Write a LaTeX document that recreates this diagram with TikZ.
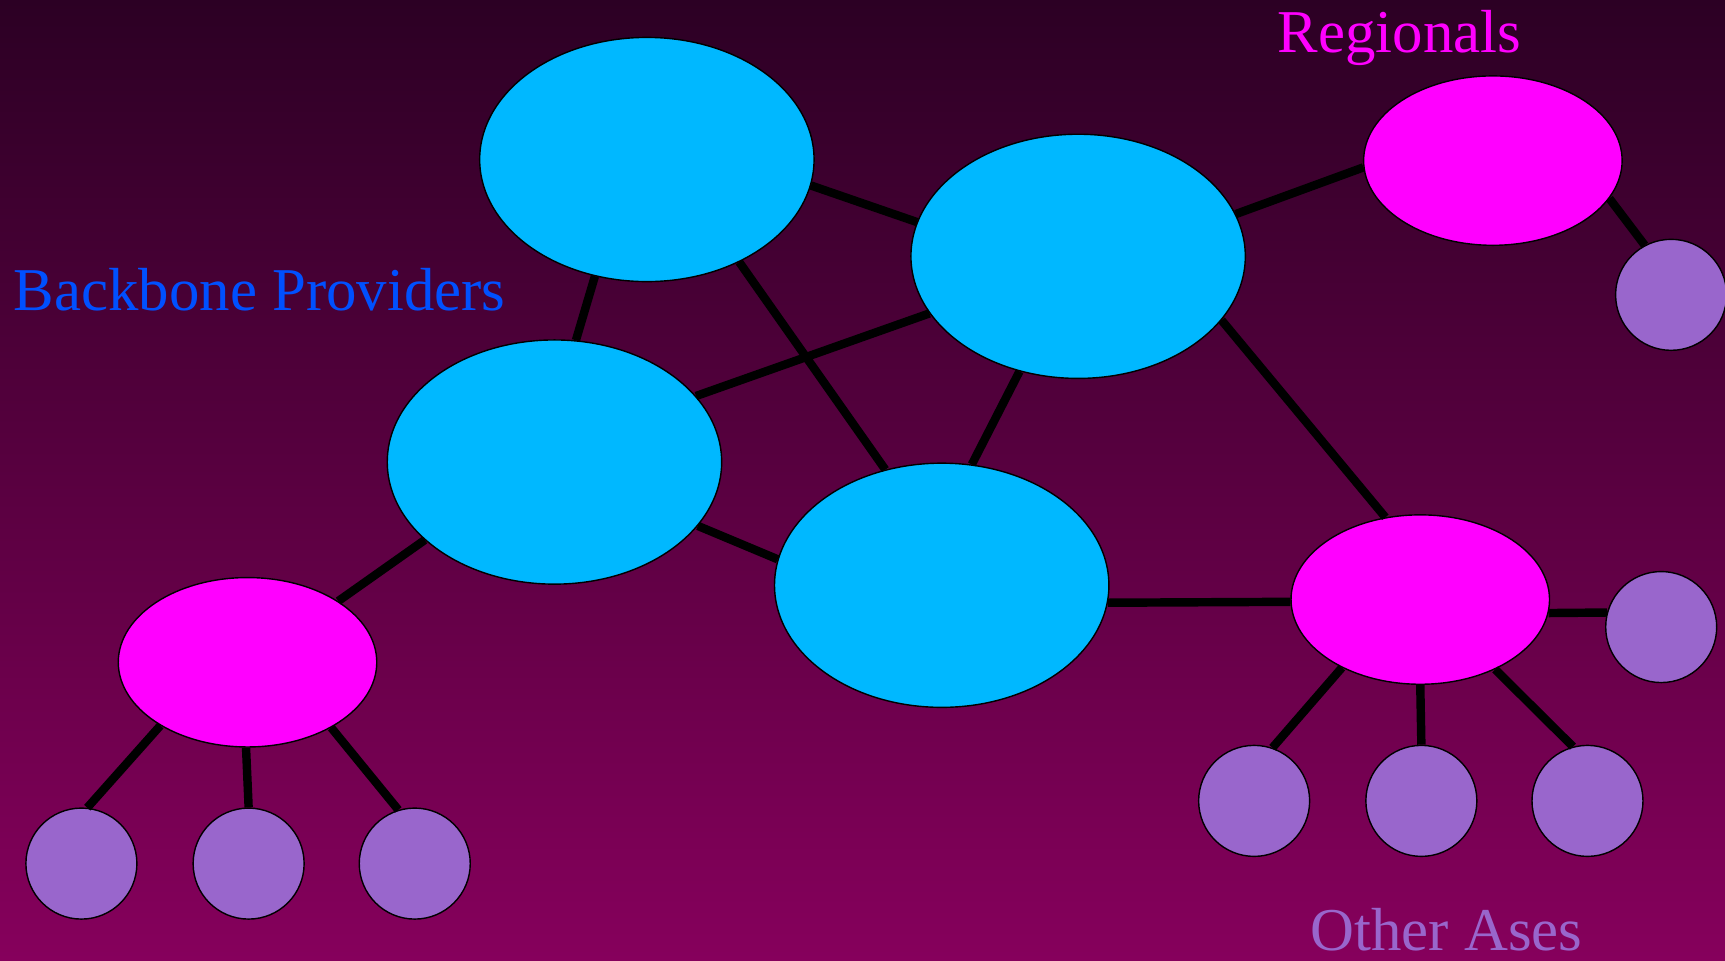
\documentclass[tikz,border=0pt]{standalone}
\usepackage{fontspec}
\setmainfont{Liberation Serif}
\usetikzlibrary{shapes.geometric}

\definecolor{bgtop}{RGB}{44,0,36}
\definecolor{bgbottom}{RGB}{134,0,92}
\definecolor{backbone}{RGB}{0,184,255}
\definecolor{regional}{RGB}{255,0,255}
\definecolor{otheras}{RGB}{153,102,204}
\definecolor{bbtext}{RGB}{0,80,255}

\begin{document}
\begin{tikzpicture}[x=0.011cm, y=-0.011cm,
        bbnode/.style={ellipse, draw=black, line width=0.4pt, fill=backbone,
            minimum width=3.344cm, minimum height=2.442cm, inner sep=0pt},
        regnode/.style={ellipse, draw=black, line width=0.4pt, fill=regional,
            minimum width=2.585cm, minimum height=1.694cm, inner sep=0pt},
        asnode/.style={circle, draw=black, line width=0.4pt, fill=otheras,
            minimum size=1.11cm, inner sep=0pt},
        link/.style={line width=2.4pt, draw=black},
        lbl/.style={font=\fontsize{17.3}{20}\selectfont, inner sep=0pt}]
        \shade[top color=bgtop, bottom color=bgbottom] (0, 0) rectangle (1568, 873);
        \useasboundingbox (0, 0) rectangle (1568, 873);

        % backbone providers
        \node[bbnode] (bbA) at (588, 145) {};
        \node[bbnode] (bbB) at (980, 233) {};
        \node[bbnode] (bbC) at (504, 420) {};
        \node[bbnode] (bbD) at (856, 532) {};

        % regionals
        \node[regnode] (regA) at (1357, 146) {};
        \node[regnode] (regB) at (1291, 545) {};
        \node[regnode] (regC) at (225, 602) {};

        % other ases
        \node[asnode] (asA) at (1519, 268) {};
        \node[asnode] (asB) at (1510, 570) {};
        \node[asnode] (asC) at (1140, 728) {};
        \node[asnode] (asD) at (1292, 728) {};
        \node[asnode] (asE) at (1443, 728) {};
        \node[asnode] (asF) at (74, 785) {};
        \node[asnode] (asG) at (226, 785) {};
        \node[asnode] (asH) at (377, 785) {};

        \draw[link] (bbA.-9.5) -- (bbB.168);
        \draw[link] (bbA.-114) -- (bbC.80);
        \draw[link] (bbA.-48.5) -- (bbD.116);
        \draw[link] (bbB.-159.6) -- (bbC.25.3);
        \draw[link] (bbB.-117.6) -- (bbD.76.7);
        \draw[link] (bbB.15.1) -- (regA.183.5);
        \draw[link] (bbB.-24.3) -- (regB.113.2);
        \draw[link] (bbC.-24.6) -- (bbD.171.5);
        \draw[link] (bbC.-149.5) -- (regC.34);
        \draw[link] (bbD.-6.3) -- (regB.181.9);

        \draw[link] (regA.-18.1) -- (asA.118.6);
        \draw[link] (regB.-6.2) -- (asB.165);
        \draw[link] (regB.-139.5) -- (asC.71);
        \draw[link] (regB.-90) -- (asD.90);
        \draw[link] (regB.-43.2) -- (asE.105.8);
        \draw[link] (regC.-144.7) -- (asF.84.4);
        \draw[link] (regC.-91) -- (asG.90);
        \draw[link] (regC.-38.5) -- (asH.107);

        \node[lbl, text=bbtext, anchor=base west] (bbtitle) at (12, 282) {Backbone Providers};
        \node[lbl, text=regional, anchor=base] (regtitle) at (1272, 48) {Regionals};
        \node[lbl, text=otheras, anchor=base] (astitle) at (1315, 864) {Other Ases};
    \end{tikzpicture}
\end{document}
